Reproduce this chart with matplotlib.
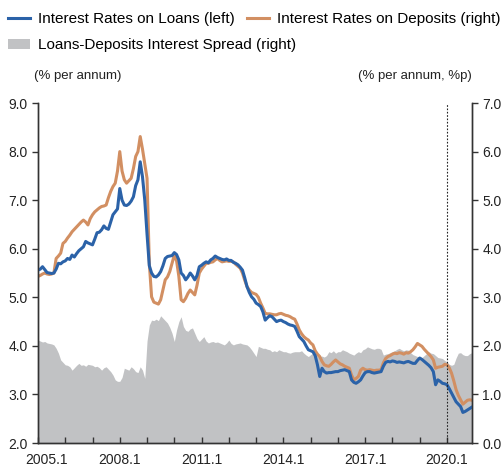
import numpy as np
import matplotlib
matplotlib.use("Agg")
import matplotlib.pyplot as plt
import matplotlib.transforms as mtransforms
from matplotlib.lines import Line2D
from matplotlib.patches import Patch

plt.rcParams['font.family'] = ['Liberation Sans', 'DejaVu Sans']

# monthly data, 2005.1 - 2020.12
loans = [  # % per annum, left axis
    5.56, 5.58, 5.63, 5.57, 5.51, 5.50, 5.49, 5.50, 5.58, 5.70, 5.69, 5.73,
    5.75, 5.80, 5.78, 5.87, 5.83, 5.90, 5.96, 6.00, 6.04, 6.15, 6.12, 6.10,
    6.08, 6.20, 6.33, 6.34, 6.39, 6.47, 6.42, 6.40, 6.55, 6.70, 6.76, 6.82,
    7.24, 7.00, 6.90, 6.89, 6.92, 6.98, 7.07, 7.30, 7.42, 7.79, 7.48, 7.00,
    6.30, 5.65, 5.50, 5.43, 5.42, 5.46, 5.53, 5.65, 5.80, 5.84, 5.85, 5.86,
    5.92, 5.88, 5.77, 5.50, 5.45, 5.36, 5.42, 5.50, 5.44, 5.36, 5.45, 5.63,
    5.66, 5.70, 5.73, 5.71, 5.77, 5.80, 5.85, 5.82, 5.80, 5.78, 5.77, 5.79,
    5.76, 5.76, 5.72, 5.70, 5.67, 5.62, 5.56, 5.40, 5.22, 5.10, 5.01, 4.96,
    4.88, 4.85, 4.81, 4.70, 4.53, 4.58, 4.62, 4.60, 4.55, 4.50, 4.52, 4.53,
    4.50, 4.48, 4.45, 4.43, 4.42, 4.40, 4.30, 4.19, 4.14, 4.09, 4.00, 3.92,
    3.90, 3.88, 3.80, 3.61, 3.37, 3.54, 3.47, 3.44, 3.45, 3.45, 3.46, 3.47,
    3.47, 3.49, 3.50, 3.51, 3.49, 3.47, 3.30, 3.25, 3.23, 3.26, 3.30, 3.38,
    3.45, 3.47, 3.47, 3.45, 3.44, 3.45, 3.46, 3.47, 3.58, 3.66, 3.68, 3.67,
    3.69, 3.68, 3.66, 3.67, 3.66, 3.65, 3.67, 3.68, 3.66, 3.64, 3.64, 3.70,
    3.75, 3.72, 3.68, 3.64, 3.60, 3.55, 3.47, 3.20, 3.30, 3.27, 3.23, 3.22,
    3.20, 3.12, 3.03, 2.94, 2.85, 2.80, 2.75, 2.63, 2.65, 2.68, 2.71, 2.74,
]
deposits = [  # % per annum, right axis
    3.43, 3.45, 3.48, 3.50, 3.48, 3.47, 3.48, 3.50, 3.80, 3.85, 3.91, 4.11,
    4.15, 4.22, 4.28, 4.35, 4.40, 4.45, 4.50, 4.55, 4.59, 4.55, 4.49, 4.62,
    4.70, 4.76, 4.80, 4.84, 4.87, 4.88, 4.90, 5.05, 5.18, 5.28, 5.35, 5.60,
    6.00, 5.60, 5.42, 5.35, 5.40, 5.45, 5.65, 5.90, 6.00, 6.31, 6.05, 5.75,
    5.45, 3.70, 3.01, 2.90, 2.88, 2.86, 2.95, 3.15, 3.36, 3.42, 3.53, 3.70,
    3.87, 3.75, 3.43, 2.95, 2.91, 2.98, 3.08, 3.15, 3.10, 3.05, 3.25, 3.50,
    3.58, 3.64, 3.70, 3.70, 3.72, 3.73, 3.77, 3.80, 3.76, 3.73, 3.74, 3.75,
    3.74, 3.74, 3.73, 3.68, 3.64, 3.60, 3.50, 3.35, 3.22, 3.15, 3.10, 3.08,
    3.06, 3.00, 2.88, 2.78, 2.67, 2.66, 2.66, 2.65, 2.64, 2.64, 2.66, 2.67,
    2.65, 2.63, 2.62, 2.60, 2.57, 2.55, 2.45, 2.33, 2.25, 2.19, 2.15, 2.12,
    2.06, 2.02, 1.90, 1.83, 1.78, 1.68, 1.61, 1.59, 1.58, 1.62, 1.67, 1.71,
    1.67, 1.63, 1.61, 1.58, 1.56, 1.54, 1.40, 1.30, 1.33, 1.37, 1.50, 1.54,
    1.51, 1.50, 1.51, 1.50, 1.49, 1.50, 1.50, 1.51, 1.65, 1.74, 1.78, 1.80,
    1.83, 1.85, 1.84, 1.86, 1.85, 1.83, 1.86, 1.85, 1.88, 1.92, 1.98, 2.05,
    2.02, 1.99, 1.93, 1.88, 1.83, 1.78, 1.71, 1.54, 1.56, 1.57, 1.58, 1.62,
    1.61, 1.55, 1.44, 1.28, 1.10, 0.98, 0.89, 0.80, 0.84, 0.88, 0.89, 0.88,
]
spread = [  # %p, right axis
    2.12, 2.10, 2.08, 2.09, 2.06, 2.05, 2.04, 2.02, 1.95, 1.85, 1.71, 1.66,
    1.61, 1.60, 1.57, 1.50, 1.55, 1.60, 1.64, 1.60, 1.61, 1.58, 1.62, 1.61,
    1.60, 1.57, 1.58, 1.55, 1.50, 1.55, 1.57, 1.52, 1.47, 1.40, 1.30, 1.27,
    1.27, 1.35, 1.54, 1.52, 1.50, 1.57, 1.53, 1.47, 1.45, 1.57, 1.50, 1.33,
    2.10, 2.43, 2.53, 2.52, 2.55, 2.52, 2.62, 2.57, 2.52, 2.47, 2.38, 2.26,
    2.09, 2.33, 2.50, 2.60, 2.40, 2.32, 2.30, 2.35, 2.37, 2.26, 2.15, 2.09,
    2.14, 2.19, 2.10, 2.06, 2.08, 2.09, 2.07, 2.08, 2.06, 2.04, 2.02, 2.06,
    2.12, 2.05, 2.02, 2.04, 2.05, 2.06, 2.04, 2.03, 2.02, 1.98, 1.92, 1.85,
    1.78, 1.99, 1.97, 1.95, 1.95, 1.93, 1.92, 1.88, 1.90, 1.88, 1.92, 1.90,
    1.88, 1.88, 1.86, 1.85, 1.87, 1.88, 1.88, 1.88, 1.90, 1.85, 1.81, 1.78,
    1.82, 1.85, 1.82, 1.80, 1.78, 1.79, 1.77, 1.80, 1.88, 1.86, 1.90, 1.85,
    1.88, 1.88, 1.92, 1.90, 1.88, 1.85, 1.83, 1.81, 1.85, 1.88, 1.86, 1.92,
    1.94, 1.98, 1.96, 1.94, 1.93, 1.95, 1.95, 1.93, 1.81, 1.83, 1.84, 1.86,
    1.88, 1.90, 1.93, 1.95, 1.92, 1.90, 1.92, 1.91, 1.86, 1.82, 1.80, 1.78,
    1.77, 1.76, 1.80, 1.84, 1.88, 1.85, 1.84, 1.80, 1.76, 1.75, 1.74, 1.70,
    1.67, 1.62, 1.60, 1.62, 1.75, 1.85, 1.86, 1.82, 1.80, 1.80, 1.84, 1.86,
]
tick_labels = ['2005.1', '2008.1', '2011.1', '2014.1', '2017.1', '2020.1']
marker_month = 180  # 2020.1

c_loan = '#2b62a8'
c_dep = '#d28f62'
c_spread = '#c1c2c4'
c_axis = '#333333'

months = np.arange(len(loans))

fig = plt.figure(figsize=(5.03, 4.69), dpi=100)
ax1 = fig.add_axes([0.0755, 0.0554, 0.8628, 0.7249])
ax2 = ax1.twinx()

# gray spread area + deposits on the right axis
ax2.fill_between(months, 0, spread, color=c_spread, lw=0)
ax2.plot(months, deposits, color=c_dep, lw=2.2)
ax2.set_ylim(0, 7)

# loans on the left axis, drawn on top
ax1.set_zorder(ax2.get_zorder() + 1)
ax1.patch.set_visible(False)
ax1.plot(months, loans, color=c_loan, lw=2.2)
ax1.axvline(marker_month, color='#222222', lw=0.8, ls=(0, (1.5, 1.5)))
ax1.set_ylim(2, 9)
ax1.set_xlim(0, len(loans) - 1)

ax1.set_yticks(np.arange(2, 9.1, 1.0))
ax1.set_yticklabels([f'{v:.1f}' for v in np.arange(2, 9.1, 1.0)])
ax2.set_yticks(np.arange(0, 7.1, 1.0))
ax2.set_yticklabels([f'{v:.1f}' for v in np.arange(0, 7.1, 1.0)])

ax1.set_xticks(np.arange(0, len(loans), 36))
ax1.set_xticks(np.arange(0, len(loans), 12), minor=True)
ax1.set_xticklabels(tick_labels)
ax1.tick_params(axis='x', which='both', direction='in', length=4, width=1,
                color=c_axis, labelsize=10, pad=7.5, labelcolor='#222222')
ax1.tick_params(axis='y', direction='out', length=4, width=1, color=c_axis,
                labelsize=10, labelcolor='#222222')
ax2.tick_params(axis='y', direction='out', length=4, width=1, color=c_axis,
                labelsize=10, labelcolor='#222222')

# nudge the first x label like the original
lab0 = ax1.get_xticklabels()[0]
lab0.set_transform(lab0.get_transform() +
                   mtransforms.ScaledTranslation(9 / 100, 0, fig.dpi_scale_trans))

for ax in (ax1, ax2):
    ax.spines['top'].set_visible(False)
    for s in ('left', 'right', 'bottom'):
        ax.spines[s].set_color(c_axis)
        ax.spines[s].set_linewidth(1.0)

fig.text(0.068, 0.838, '(% per annum)', fontsize=9.5, color='#222222', va='center')
fig.text(0.712, 0.838, '(% per annum, %p)', fontsize=9.5, color='#222222', va='center')

h1 = [Line2D([], [], color=c_loan, lw=2.2), Line2D([], [], color=c_dep, lw=2.2)]
fig.legend(h1, ['Interest Rates on Loans (left)', 'Interest Rates on Deposits (right)'],
           loc='center left', bbox_to_anchor=(0.016, 0.959), ncol=2, frameon=False,
           fontsize=11, handlelength=1.45, handletextpad=0.5, columnspacing=0.8,
           borderaxespad=0, borderpad=0)
h2 = [Patch(facecolor=c_spread, edgecolor='none')]
fig.legend(h2, ['Loans-Deposits Interest Spread (right)'],
           loc='center left', bbox_to_anchor=(0.016, 0.903), frameon=False,
           fontsize=11, handlelength=1.45, handleheight=0.6, handletextpad=0.5,
           borderaxespad=0, borderpad=0)

fig.savefig('out.png', dpi=100)
